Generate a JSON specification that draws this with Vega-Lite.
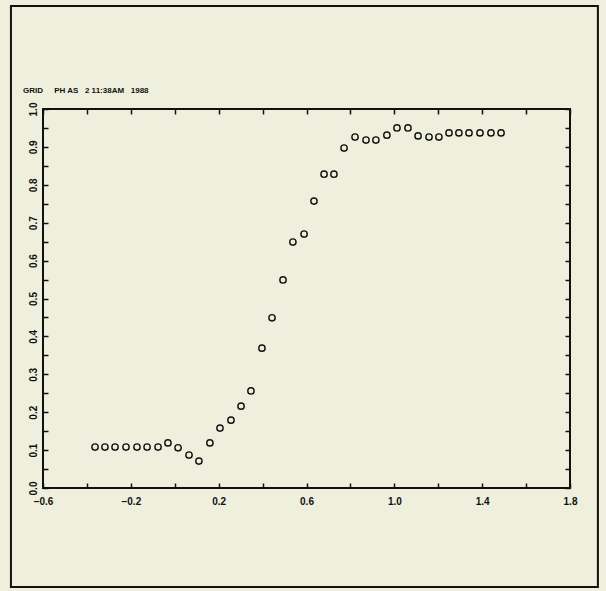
{
  "$schema": "https://vega.github.io/schema/vega-lite/v6.json",
  "width": 527,
  "height": 379,
  "autosize": {"type": "none"},
  "padding": {"left": 43, "top": 109, "right": 36, "bottom": 103},
  "background": "#eeefdc",
  "config": {"view": {"stroke": "#111111", "strokeWidth": 2}},
  "layer": [
    {
      "data": {"values": [
        {"x": -0.363, "y": 0.108}, {"x": -0.318, "y": 0.108}, {"x": -0.272, "y": 0.108}, {"x": -0.222, "y": 0.108},
        {"x": -0.172, "y": 0.108}, {"x": -0.126, "y": 0.108}, {"x": -0.076, "y": 0.108}, {"x": -0.031, "y": 0.119},
        {"x": 0.015, "y": 0.106}, {"x": 0.065, "y": 0.087}, {"x": 0.110, "y": 0.071}, {"x": 0.160, "y": 0.119},
        {"x": 0.206, "y": 0.158}, {"x": 0.256, "y": 0.179}, {"x": 0.302, "y": 0.216}, {"x": 0.347, "y": 0.256},
        {"x": 0.397, "y": 0.369}, {"x": 0.443, "y": 0.449}, {"x": 0.493, "y": 0.549}, {"x": 0.538, "y": 0.649},
        {"x": 0.589, "y": 0.670}, {"x": 0.634, "y": 0.757}, {"x": 0.680, "y": 0.828}, {"x": 0.725, "y": 0.828},
        {"x": 0.771, "y": 0.897}, {"x": 0.821, "y": 0.926}, {"x": 0.871, "y": 0.918}, {"x": 0.916, "y": 0.918},
        {"x": 0.966, "y": 0.931}, {"x": 1.012, "y": 0.950}, {"x": 1.062, "y": 0.950}, {"x": 1.108, "y": 0.929},
        {"x": 1.158, "y": 0.926}, {"x": 1.203, "y": 0.926}, {"x": 1.249, "y": 0.937}, {"x": 1.294, "y": 0.937},
        {"x": 1.340, "y": 0.937}, {"x": 1.390, "y": 0.937}, {"x": 1.440, "y": 0.937}, {"x": 1.486, "y": 0.937}
      ]},
      "mark": {"type": "point", "shape": "circle", "filled": false, "size": 40, "strokeWidth": 1.4, "color": "#111111", "opacity": 1},
      "encoding": {
        "x": {"field": "x", "type": "quantitative", "scale": {"domain": [-0.6, 1.8], "nice": false, "zero": false},
          "axis": {"orient": "bottom", "values": [-0.6, -0.4, -0.2, 0, 0.2, 0.4, 0.6, 0.8, 1, 1.2, 1.4, 1.6, 1.8],
            "tickSize": -5, "tickWidth": 1.5, "tickColor": "#111111", "domain": false, "grid": false,
            "labelPadding": 13, "labelExpr": "abs(round((datum.value+0.6)*10)) % 4 == 0 ? format(datum.value,'.1f') : ''",
            "labelFont": "Liberation Sans", "labelFontSize": 10, "labelFontWeight": "bold", "labelColor": "#111111",
            "labelFlush": false, "labelOverlap": false, "title": null}},
        "y": {"field": "y", "type": "quantitative", "scale": {"domain": [0, 1], "nice": false, "zero": false},
          "axis": {"orient": "left", "values": [0, 0.05, 0.1, 0.15, 0.2, 0.25, 0.3, 0.35, 0.4, 0.45, 0.5, 0.55, 0.6, 0.65, 0.7, 0.75, 0.8, 0.85, 0.9, 0.95, 1],
            "tickSize": -5, "tickWidth": 1.5, "tickColor": "#111111", "domain": false, "grid": false,
            "labelPadding": 10, "labelAngle": 270, "labelAlign": "center", "labelBaseline": "bottom",
            "labelExpr": "round(datum.value*100) % 10 == 0 ? format(datum.value,'.1f') : ''",
            "labelFont": "Liberation Sans", "labelFontSize": 10, "labelFontWeight": "bold", "labelColor": "#111111",
            "labelFlush": false, "labelOverlap": false, "title": null}}
      }
    },
    {
      "data": {"values": [{}]},
      "mark": {"type": "rect", "filled": false, "stroke": "#111111", "strokeWidth": 2},
      "encoding": {
        "x": {"datum": -0.746, "type": "quantitative",
          "axis": {"orient": "top", "values": [-0.6, -0.4, -0.2, 0, 0.2, 0.4, 0.6, 0.8, 1, 1.2, 1.4, 1.6, 1.8],
            "tickSize": -5, "tickWidth": 1.5, "tickColor": "#111111", "domain": false, "grid": false, "labels": false, "title": null}},
        "x2": {"datum": 1.927},
        "y": {"datum": 1.272, "type": "quantitative",
          "axis": {"orient": "right", "values": [0, 0.05, 0.1, 0.15, 0.2, 0.25, 0.3, 0.35, 0.4, 0.45, 0.5, 0.55, 0.6, 0.65, 0.7, 0.75, 0.8, 0.85, 0.9, 0.95, 1],
            "tickSize": -5, "tickWidth": 1.5, "tickColor": "#111111", "domain": false, "grid": false, "labels": false, "title": null}},
        "y2": {"datum": -0.261}
      }
    },
    {
      "data": {"values": [{"label": "GRID\u00a0\u00a0\u00a0\u00a0\u00a0PH AS\u00a0\u00a0\u00a02 11:38AM\u00a0\u00a0\u00a01988"}]},
      "mark": {"type": "text", "align": "left", "baseline": "middle", "fontSize": 8, "fontWeight": "bold", "font": "Liberation Sans", "color": "#111111"},
      "encoding": {
        "x": {"datum": -0.691, "type": "quantitative", "axis": null},
        "y": {"datum": 1.047, "type": "quantitative", "axis": null},
        "text": {"field": "label"}
      }
    }
  ],
  "resolve": {"axis": {"x": "independent", "y": "independent"}}
}
